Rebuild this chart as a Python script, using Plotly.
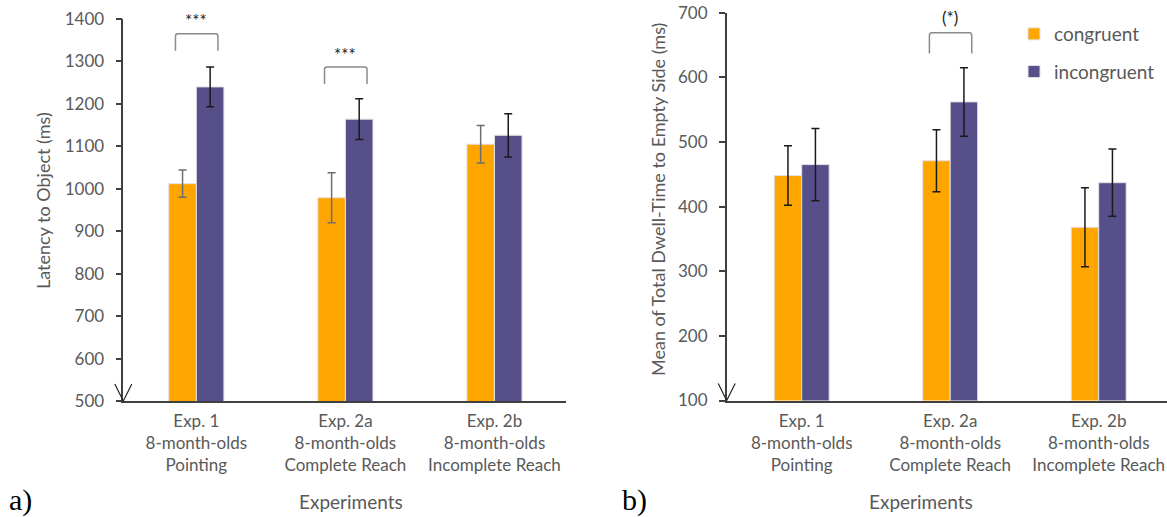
import plotly.graph_objects as go

# Experiment labels shared by both panels
experiments = ["Exp. 1<br>8-month-olds<br>Pointing",
               "Exp. 2a<br>8-month-olds<br>Complete Reach",
               "Exp. 2b<br>8-month-olds<br>Incomplete Reach"]
x_pos = [0, 1, 2]

# Panel a: latency to object (ms)
latency_congruent = [1012, 979, 1105]
latency_congruent_err = [32, 59, 44]
latency_incongruent = [1240, 1164, 1126]
latency_incongruent_err = [47, 48, 51]

# Panel b: mean of total dwell-time to empty side (ms)
dwell_congruent = [448, 471, 368]
dwell_congruent_err = [46, 48, 61]
dwell_incongruent = [465, 562, 437]
dwell_incongruent_err = [56, 53, 52]

# Significance brackets: (panel, experiment index, bottom, top, label, label y)
brackets = [
    ("a", 0, 1325, 1365, "***", 1397),
    ("a", 1, 1247, 1287, "***", 1316),
    ("b", 1, 637, 669, "(*)", 693),
]

ORANGE = "#FFA500"
PURPLE = "#574F8A"
AXIS_COLOR = "#404040"
TEXT_COLOR = "#595959"
FONT = "Lato"

W, H = 1167, 517


def px_x(p):
    return p / W


def px_y(p):
    return 1 - p / H


fig = go.Figure()

panels = {
    "a": dict(xa="x", ya="y", cong=latency_congruent, cerr=latency_congruent_err,
              inc=latency_incongruent, ierr=latency_incongruent_err,
              cerr_color="#6E6E6E", ierr_color="#1A1A1A", legend=False),
    "b": dict(xa="x2", ya="y2", cong=dwell_congruent, cerr=dwell_congruent_err,
              inc=dwell_incongruent, ierr=dwell_incongruent_err,
              cerr_color="#1A1A1A", ierr_color="#1A1A1A", legend=True),
}

for key, p in panels.items():
    fig.add_trace(go.Bar(
        x=x_pos, y=p["cong"], name="congruent", legendgroup="congruent",
        marker=dict(color=ORANGE, line=dict(color="#E2E2E2", width=1)),
        error_y=dict(type="data", array=p["cerr"], visible=True,
                     color=p["cerr_color"], thickness=1.5, width=4),
        xaxis=p["xa"], yaxis=p["ya"], showlegend=p["legend"],
        hoverinfo="skip"))
    fig.add_trace(go.Bar(
        x=x_pos, y=p["inc"], name="incongruent", legendgroup="incongruent",
        marker=dict(color=PURPLE, line=dict(color="#E2E2E2", width=1)),
        error_y=dict(type="data", array=p["ierr"], visible=True,
                     color=p["ierr_color"], thickness=1.5, width=4),
        xaxis=p["xa"], yaxis=p["ya"], showlegend=p["legend"],
        hoverinfo="skip"))

common_x = dict(tickvals=x_pos, ticktext=experiments, showline=True,
                linecolor=AXIS_COLOR, linewidth=1.5, ticks="", showgrid=False,
                zeroline=False, automargin=False, ticklabelstandoff=4,
                tickfont=dict(family=FONT, size=17, color=TEXT_COLOR),
                fixedrange=True)
common_y = dict(showline=True, linecolor=AXIS_COLOR, linewidth=1.5, ticks="outside",
                ticklen=6, tickcolor=AXIS_COLOR, tickwidth=1.5, showgrid=False,
                zeroline=False, automargin=False,
                tickfont=dict(family=FONT, size=17, color=TEXT_COLOR),
                ticklabelstandoff=8, fixedrange=True)

fig.update_layout(
    width=W, height=H,
    margin=dict(l=0, r=0, t=0, b=0, pad=0),
    paper_bgcolor="white", plot_bgcolor="white",
    barmode="group", bargap=0.63, bargroupgap=0,
    xaxis=dict(domain=[px_x(123.3), px_x(566)], range=[-0.49, 2.48],
               anchor="y", **common_x),
    yaxis=dict(domain=[px_y(401), px_y(19)], range=[500, 1400], dtick=100,
               anchor="x", **common_y),
    xaxis2=dict(domain=[px_x(726.7), 1.0], range=[-0.505, 2.46],
                anchor="y2", **common_x),
    yaxis2=dict(domain=[px_y(400.5), px_y(12.7)], range=[100, 700], dtick=100,
                anchor="x2", **common_y),
    legend=dict(x=px_x(1014), y=px_y(15), xanchor="left", yanchor="top",
                font=dict(family=FONT, size=19, color=TEXT_COLOR),
                bgcolor="rgba(0,0,0,0)", tracegroupgap=10,
                itemclick=False, itemdoubleclick=False),
    showlegend=True,
)

annotations = []
shapes = []


def label(text, x, y, size, family=FONT, color=TEXT_COLOR, angle=0):
    return dict(text=text, x=px_x(x), y=px_y(y), xref="paper", yref="paper",
                xanchor="center", yanchor="middle", showarrow=False,
                textangle=angle, font=dict(family=family, size=size, color=color))


# Axis titles and panel tags
annotations.append(label("Latency to Object (ms)", 43, 201, 18, angle=-90))
annotations.append(label("Mean of Total Dwell-Time to Empty Side (ms)", 658, 199, 18,
                         angle=-90))
for xc in (351, 921):
    annotations.append(label("Experiments", xc, 501, 19))
for tag, xc in (("a)", 20), ("b)", 634)):
    annotations.append(label(tag, xc, 500, 30, family="Liberation Serif", color="black"))

# Axis-break arrow at the base of each value axis
for xa, ya in (("x", "y"), ("x2", "y2")):
    shapes.append(dict(type="path", xref=f"{xa} domain", yref=f"{ya} domain",
                       xsizemode="pixel", ysizemode="pixel", xanchor=0, yanchor=0,
                       path="M -8.5,17 L 0,0 L 8.5,17",
                       line=dict(color="#222222", width=1.2)))

# Significance brackets with rounded corners
for panel, idx, yb, yt, text, ly in brackets:
    xa = panels[panel]["xa"]
    ya = panels[panel]["ya"]
    x0 = x_pos[idx] - 0.14
    x1 = x_pos[idx] + 0.145
    ry = (yt - yb) * 0.15
    rx = 0.015
    path = (f"M {x0},{yb} L {x0},{yt - ry} Q {x0},{yt} {x0 + rx},{yt} "
            f"L {x1 - rx},{yt} Q {x1},{yt} {x1},{yt - ry} L {x1},{yb}")
    shapes.append(dict(type="path", xref=xa, yref=ya, path=path,
                       line=dict(color="#8A8A8A", width=1.5)))
    annotations.append(dict(text=text, x=x_pos[idx], y=ly, xref=xa, yref=ya,
                            xanchor="center", yanchor="middle", showarrow=False,
                            font=dict(family=FONT, size=17, color="#222222")))

fig.update_layout(annotations=annotations, shapes=shapes)

fig.write_html("out.html")
